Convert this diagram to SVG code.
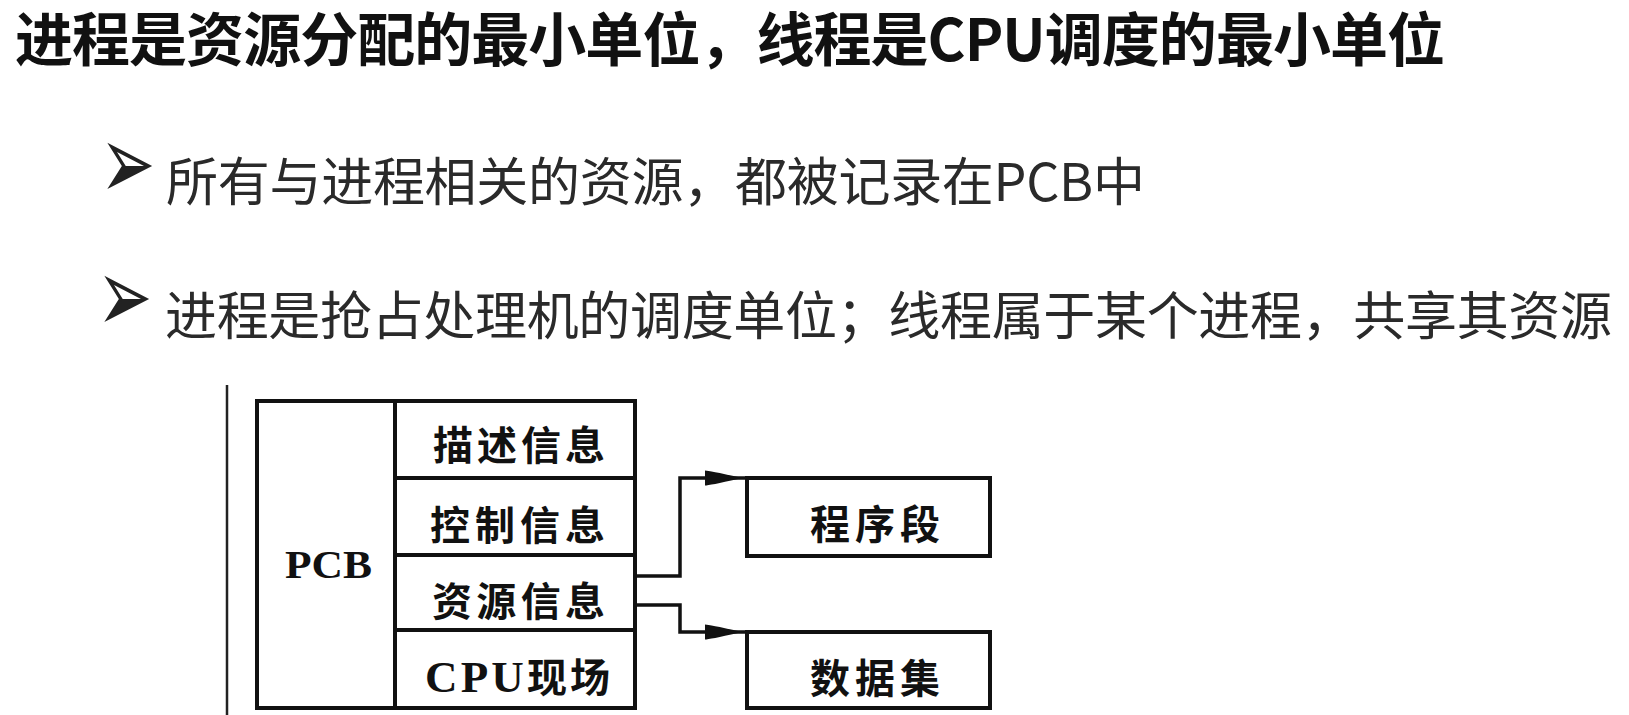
<svg xmlns="http://www.w3.org/2000/svg" width="1629" height="715" viewBox="0 0 1629 715">
<style>
.title{font-family:"Noto Sans CJK SC","Liberation Sans",sans-serif;font-weight:700;font-size:58px;fill:#111}
.bul{font-family:"Noto Sans CJK SC","Liberation Sans",sans-serif;font-size:52px;fill:#2a2a2a}
.mark{font-family:"DejaVu Sans",sans-serif;font-size:66px;fill:#222}
.box{fill:#fff;stroke:#111;stroke-width:4}
.lbl{font-family:"Liberation Serif","Noto Sans CJK SC",serif;font-weight:700;font-size:40px;fill:#111}
.conn{fill:none;stroke:#111;stroke-width:3.5}
</style>
<defs>
<marker id="ah" markerUnits="userSpaceOnUse" viewBox="0 -10 45 20" refX="42" refY="0" markerWidth="45" markerHeight="20" orient="auto">
<path d="M0,-7.5 Q4,-7.5 33,-1 L33,1 Q4,7.5 0,7.5 Z" fill="#111"/>
</marker>
</defs>
<rect width="1629" height="715" fill="#fff"/>
<g id="title">
<text class="title" x="15" y="61" textLength="1430" lengthAdjust="spacing">进程是资源分配的最小单位，线程是CPU调度的最小单位</text>
</g>
<g id="bullet1">
<text class="mark" transform="translate(100,180) scale(1,1.6)" x="0" y="12">➢</text>
<text class="bul" x="166" y="201" textLength="979" lengthAdjust="spacing">所有与进程相关的资源，都被记录在PCB中</text>
</g>
<g id="bullet2">
<text class="mark" transform="translate(97,313) scale(1,1.6)" x="0" y="12">➢</text>
<text class="bul" x="165" y="335" textLength="1447" lengthAdjust="spacing">进程是抢占处理机的调度单位；线程属于某个进程，共享其资源</text>
</g>
<line x1="227" y1="385" x2="227" y2="715" stroke="#222" stroke-width="2.5"/>
<g id="pcb">
<rect class="box" x="257" y="401" width="378" height="307"/>
<line x1="395" y1="401" x2="395" y2="708" stroke="#111" stroke-width="4"/>
<text class="lbl" x="285" y="578" font-size="45" textLength="87" lengthAdjust="spacingAndGlyphs">PCB</text>
</g>
<g id="row-desc">
<line x1="395" y1="478" x2="635" y2="478" stroke="#111" stroke-width="4"/>
<text class="lbl" x="433" y="460" textLength="172" lengthAdjust="spacing">描述信息</text>
</g>
<g id="row-ctrl">
<line x1="395" y1="555" x2="635" y2="555" stroke="#111" stroke-width="4"/>
<text class="lbl" x="430" y="540" textLength="175" lengthAdjust="spacing">控制信息</text>
</g>
<g id="row-res">
<line x1="395" y1="630" x2="635" y2="630" stroke="#111" stroke-width="4"/>
<text class="lbl" x="432" y="616" textLength="173" lengthAdjust="spacing">资源信息</text>
</g>
<g id="row-cpu">
<text class="lbl" x="425" y="692" textLength="185" lengthAdjust="spacing"><tspan font-size="45">CPU</tspan>现场</text>
</g>
<g id="prog">
<rect class="box" x="747" y="478" width="243" height="78"/>
<text class="lbl" x="810" y="539" textLength="130" lengthAdjust="spacing">程序段</text>
</g>
<g id="data">
<rect class="box" x="747" y="632" width="243" height="76"/>
<text class="lbl" x="810" y="693" textLength="130" lengthAdjust="spacing">数据集</text>
</g>
<g id="connectors">
<path class="conn" d="M635,576 H680 V478 H747" marker-end="url(#ah)"/>
<path class="conn" d="M635,605 H680 V632 H747" marker-end="url(#ah)"/>
</g>
</svg>
